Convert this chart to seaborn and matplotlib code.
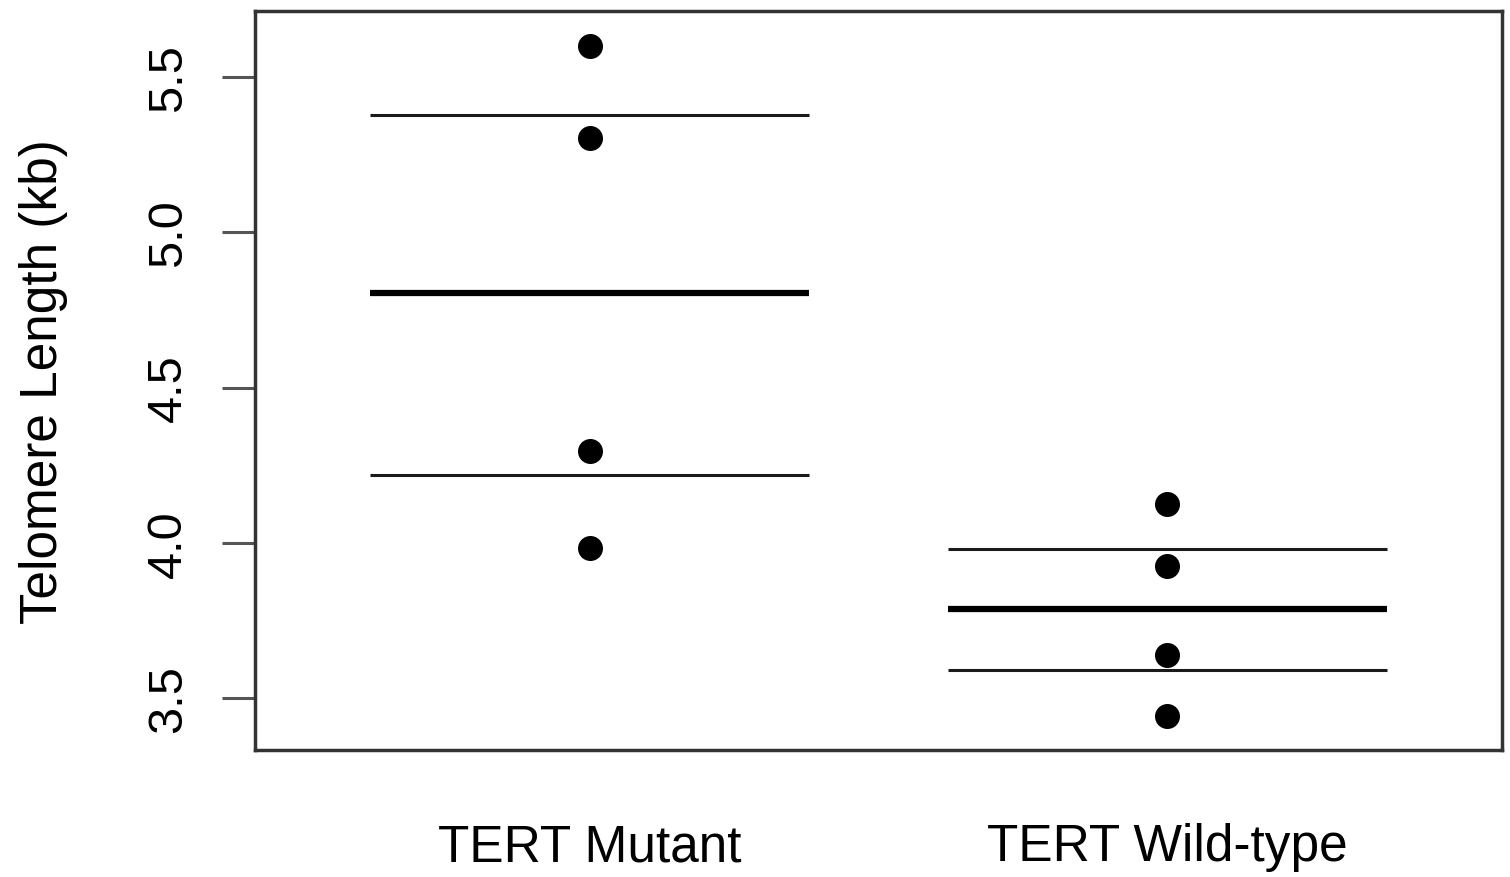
import matplotlib
matplotlib.use("Agg")
import matplotlib.pyplot as plt
import seaborn as sns
import pandas as pd

# ---- data ----
categories = ["TERT Mutant", "TERT Wild-type"]
mutant_values = [5.60, 5.305, 4.297, 3.984]
wildtype_values = [4.126, 3.926, 3.639, 3.442]
group_means = [4.803, 3.787]
group_upper = [5.377, 3.981]
group_lower = [4.219, 3.590]
y_ticks = [3.5, 4.0, 4.5, 5.0, 5.5]
y_label = "Telomere Length (kb)"

sns.set_theme(style="white")
plt.rcParams["font.family"] = ["Liberation Sans", "DejaVu Sans"]
plt.rcParams["text.color"] = "black"
plt.rcParams["axes.labelcolor"] = "black"
plt.rcParams["xtick.color"] = "black"
plt.rcParams["ytick.color"] = "black"

df = pd.DataFrame({
    "group": [categories[0]] * len(mutant_values) + [categories[1]] * len(wildtype_values),
    "value": mutant_values + wildtype_values,
})

fig = plt.figure(figsize=(15.1, 8.78), dpi=100)
ax = fig.add_axes([0.1689, 0.1446, 0.9947 - 0.1689, 0.9863 - 0.1446])

sns.stripplot(data=df, x="group", y="value", order=categories, jitter=False,
              color="black", size=18, linewidth=0, ax=ax, zorder=3)

half = 0.38
for i in range(len(categories)):
    ax.hlines(group_means[i], i - half, i + half, color="black", lw=4.5, zorder=2)
    ax.hlines([group_upper[i], group_lower[i]], i - half, i + half, color="#1a1a1a", lw=2.2, zorder=2)

ax.set_xlim(-0.58, 1.58)
ax.set_ylim(3.332, 5.713)
ax.set_yticks(y_ticks)
ax.set_yticklabels([f"{t:.1f}" for t in y_ticks], rotation=90, va="center")
ax.tick_params(axis="y", length=24, width=2.2, color="#555555", labelcolor="black",
               pad=22, labelsize=35, left=True)
ax.tick_params(axis="x", length=0, pad=52, labelsize=37, labelcolor="black")
ax.set_xlabel("")
ax.set_ylabel(y_label, fontsize=37, labelpad=56, color="black")

for s in ax.spines.values():
    s.set_visible(True)
    s.set_color("#333333")
    s.set_linewidth(2.5)

fig.savefig("out.png", dpi=100)
